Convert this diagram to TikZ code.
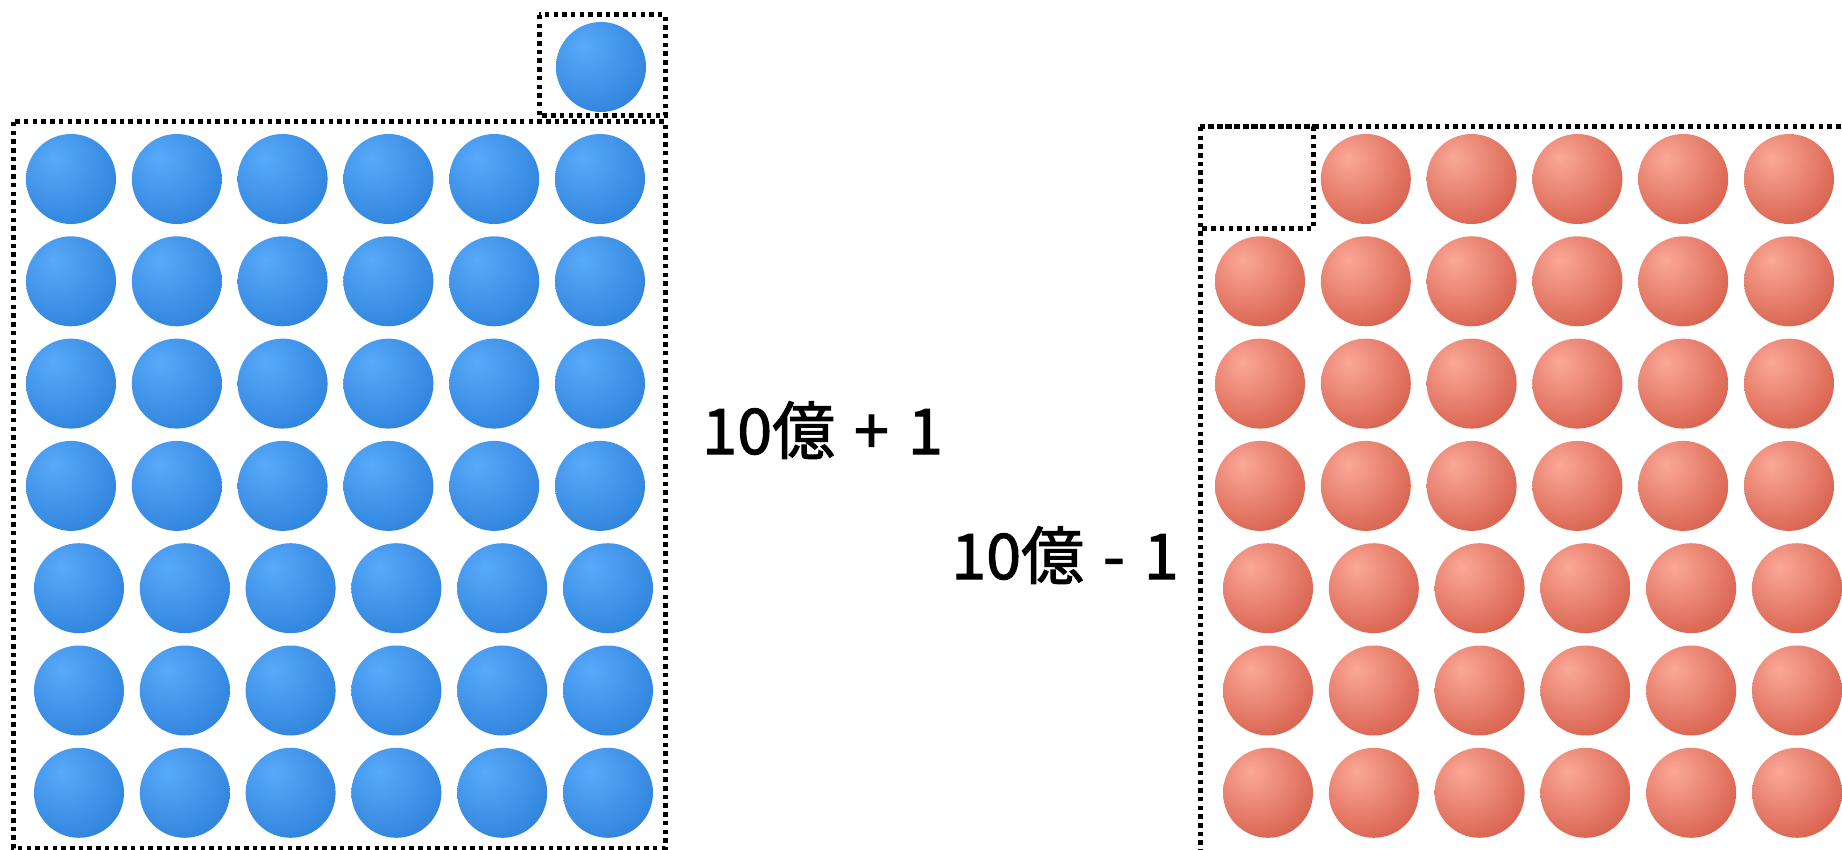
\documentclass[tikz,border=0pt]{standalone}
\usepackage{fontspec}
\newfontfamily\jpfont[FakeBold=1.6]{Noto Sans CJK JP}
\definecolor{blulight}{HTML}{58AAFA}
\definecolor{bludark}{HTML}{176CCA}
\definecolor{rossolight}{HTML}{FCA898}
\definecolor{rossodark}{HTML}{C53F29}
\pgfdeclareradialshading{sferablu}{\pgfpoint{-10bp}{12bp}}{color(0bp)=(blulight); color(58bp)=(bludark); color(100bp)=(bludark)}
\pgfdeclareradialshading{sferarossa}{\pgfpoint{-10bp}{12bp}}{color(0bp)=(rossolight); color(54bp)=(rossodark); color(100bp)=(rossodark)}
\tikzset{
  pallina/.style={circle, minimum size=90pt, inner sep=0pt},
  blu/.style={pallina, shading=sferablu},
  rossa/.style={pallina, shading=sferarossa},
  puntini/.style={draw=black, line width=5pt, dash pattern=on 4.5pt off 4.2pt},
  etichetta/.style={font=\jpfont\fontsize{63}{63}\selectfont, anchor=base west, inner sep=0pt}
}
\begin{document}
\begin{tikzpicture}[x=1pt, y=-1pt]
        \useasboundingbox (0,0) rectangle (1842,850);
        \clip (0,0) rectangle (1842,850);

        % Palline blu (10 miliardi + 1)
        \foreach \r in {1,...,7} {
          \pgfmathsetmacro{\xo}{\r>4 ? 79 : 71}
          \foreach \c in {1,...,6} {
            \node[blu] (b-\r-\c) at ({\xo+(\c-1)*105.8}, {179+(\r-1)*102.3}) {};
          }
        }
        \node[blu] (b-extra) at (601,67) {};
        \draw[puntini] (13,122) rectangle (665,848);
        \draw[puntini] (539,15) rectangle (665,116);

        % Palline rosse (10 miliardi - 1)
        \foreach \r in {1,...,7} {
          \pgfmathsetmacro{\xo}{\r>4 ? 1268 : 1260}
          \foreach \c in {1,...,6} {
            \ifnum\r=1 \ifnum\c=1 \else
              \node[rossa] (r-\r-\c) at ({\xo+(\c-1)*105.8}, {179+(\r-1)*102.3}) {};
            \fi \else
              \node[rossa] (r-\r-\c) at ({\xo+(\c-1)*105.8}, {179+(\r-1)*102.3}) {};
            \fi
          }
        }
        \draw[puntini] (1200,127) rectangle (1900,900);
        \draw[puntini] (1200,127) rectangle (1313,229);

        % Etichette
        \node[etichetta] (piu) at (702,454) {10億\hspace{0.3em}+\hspace{0.3em}1};
        \node[etichetta] (meno) at (951,579) {10億\hspace{0.3em}-\hspace{0.3em}1};
\end{tikzpicture}
\end{document}
